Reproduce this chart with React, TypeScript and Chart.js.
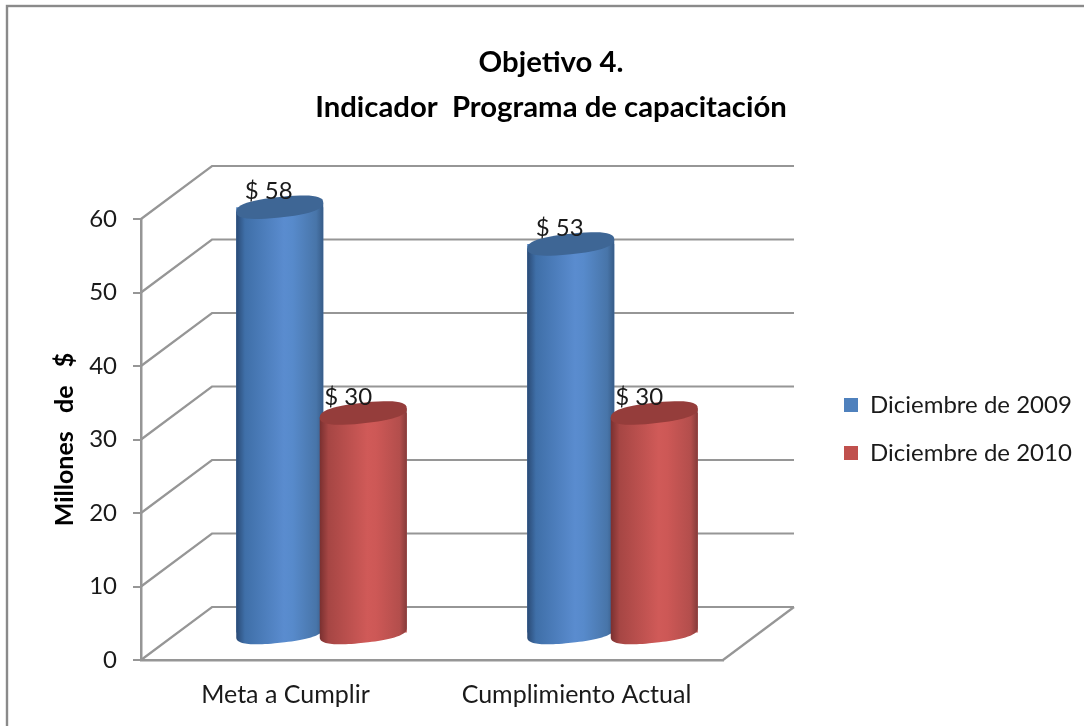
import React, { useEffect, useRef } from "react";
import { Chart, registerables } from "chart.js";

Chart.register(...registerables);

const categories = ["Meta a Cumplir", "Cumplimiento Actual"];
const seriesNames = ["Diciembre de 2009", "Diciembre de 2010"];
const values2009 = [58, 53];
const values2010 = [30, 30];
const titleLines = ["Objetivo 4.", "Indicador  Programa de capacitación"];
const axisTitle = "Millones   de   $";

const FONT = "Lato, Carlito, sans-serif";
const GREY = "#969696";
const DEPTH_X = 71;
const DEPTH_Y = -53;
const BAR_DX = 35;
const BAR_DY = -26.5;
const CAP_SLOPE = -0.105;
const RY = 10.3;
const CAP_POWER = 0.8;

const palettes = [
  { flat: "#4f81bd", cap: "#3e6695", stops: ["#2a4a75", "#3f6fa8", "#5a8ccf", "#578acb", "#4875a9", "#375c88"] },
  { flat: "#c0504d", cap: "#953d3b", stops: ["#7a3030", "#a64644", "#d05a58", "#cd5856", "#b34e4c", "#853b3a"] },
];
const labelShift = [-11, -15];

// Traces the rounded, slightly tilted rim of a cylinder between two angles.
function capPath(ctx: any, x: number, y: number, rx: number, from: number, to: number) {
  const steps = 48;
  for (let i = 0; i <= steps; i++) {
    const a = from + ((to - from) * i) / steps;
    const c = Math.cos(a);
    const s = Math.sin(a);
    const px = rx * Math.sign(c) * Math.pow(Math.abs(c), CAP_POWER);
    const py = RY * Math.sign(s) * Math.pow(Math.abs(s), CAP_POWER);
    ctx.lineTo(x + px, y + py + CAP_SLOPE * px);
  }
}

const scene = {
  id: "scene3d",
  beforeDraw(chart: any) {
    const { ctx, width, height } = chart;
    ctx.save();
    ctx.fillStyle = "#ffffff";
    ctx.fillRect(0, 0, width, height);
    ctx.strokeStyle = "#8a8a8a";
    ctx.lineWidth = 2.4;
    ctx.strokeRect(7, 6, width + 20, height + 20);
    ctx.restore();
  },
  afterLayout(chart: any) {
    const lg = chart.legend;
    const p = lg.options.labels.padding;
    lg.left = 844 - p;
    lg.right = chart.width;
    lg.top = 393 - p;
    lg.bottom = lg.top + lg.height;
    const t = chart.titleBlock;
    const shift = 551 - (t.left + t.right) / 2;
    t.left += shift;
    t.right += shift;
  },
  beforeDatasetsDraw(chart: any) {
    const { ctx, chartArea, scales } = chart;
    ctx.save();
    ctx.strokeStyle = GREY;
    ctx.lineWidth = 2.2;
    scales.y.ticks.forEach((tk: any) => {
      const y = scales.y.getPixelForValue(tk.value);
      ctx.beginPath();
      ctx.moveTo(chartArea.left, y);
      ctx.lineTo(chartArea.left + DEPTH_X, y + DEPTH_Y);
      ctx.lineTo(chartArea.right + DEPTH_X, y + DEPTH_Y);
      ctx.stroke();
    });
    ctx.beginPath();
    ctx.moveTo(chartArea.right, chartArea.bottom);
    ctx.lineTo(chartArea.right + DEPTH_X, chartArea.bottom + DEPTH_Y);
    ctx.stroke();
    ctx.restore();
    ctx.save();
    ctx.translate(BAR_DX, BAR_DY);
  },
  afterDatasetsDraw(chart: any) {
    const { ctx } = chart;
    ctx.restore();
    ctx.save();
    ctx.translate(BAR_DX, BAR_DY);
    chart.data.datasets.forEach((_: any, di: number) => {
      const pal = palettes[di];
      chart.getDatasetMeta(di).data.forEach((el: any) => {
        const { x, y, base, width } = el.getProps(["x", "y", "base", "width"], true);
        const rx = width / 2;
        const g = ctx.createLinearGradient(x - rx, 0, x + rx, 0);
        [0, 0.1, 0.55, 0.65, 0.92, 1].forEach((s, i) => g.addColorStop(s, pal.stops[i]));
        ctx.fillStyle = g;
        ctx.beginPath();
        ctx.moveTo(x - rx, y - CAP_SLOPE * rx);
        capPath(ctx, x, base, rx, Math.PI, 0);
        ctx.lineTo(x + rx, y + CAP_SLOPE * rx);
        ctx.closePath();
        ctx.fill();
        ctx.fillStyle = pal.cap;
        ctx.beginPath();
        capPath(ctx, x, y, rx, 0, Math.PI * 2);
        ctx.closePath();
        ctx.fill();
      });
    });
    ctx.restore();
    ctx.save();
    ctx.fillStyle = "#1a1a1a";
    ctx.font = `24px ${FONT}`;
    ctx.textAlign = "center";
    ctx.textBaseline = "middle";
    chart.data.datasets.forEach((ds: any, di: number) => {
      chart.getDatasetMeta(di).data.forEach((el: any, i: number) => {
        ctx.fillText(`$ ${ds.data[i]}`, el.x + BAR_DX + labelShift[di], el.y + BAR_DY - 16);
      });
    });
    ctx.restore();
  },
};

export default function App() {
  const ref = useRef<HTMLCanvasElement>(null);
  useEffect(() => {
    const chart = new Chart(ref.current as HTMLCanvasElement, {
      type: "bar",
      data: {
        labels: categories,
        datasets: [
          { label: seriesNames[0], data: values2009, backgroundColor: palettes[0].flat, clip: false } as any,
          { label: seriesNames[1], data: values2010, backgroundColor: palettes[1].flat, clip: false } as any,
        ],
      },
      options: {
        responsive: false,
        animation: false,
        layout: { padding: { left: 0, top: 0, right: 120, bottom: 0 } },
        datasets: { bar: { categoryPercentage: 0.574, barPercentage: 1.042 } },
        plugins: {
          tooltip: { enabled: false },
          title: {
            display: true,
            text: titleLines,
            color: "#000000",
            font: { family: FONT, size: 29.3, weight: "bold", lineHeight: 45 / 29.3 },
            padding: { top: 40, bottom: 89 },
          },
          legend: {
            position: "right",
            align: "start",
            labels: {
              boxWidth: 14,
              boxHeight: 14,
              padding: 24,
              color: "#1a1a1a",
              font: { family: FONT, size: 24 },
            },
          },
        },
        scales: {
          x: {
            grid: { display: false, drawTicks: false },
            border: { display: true, color: GREY, width: 2.5 },
            ticks: { padding: 20, labelOffset: -1, color: "#1a1a1a", font: { family: FONT, size: 25 }, maxRotation: 0 },
            afterFit: (s: any) => {
              s.height = 66;
            },
          },
          y: {
            min: 0,
            max: 60,
            ticks: { stepSize: 10, padding: 16, color: "#1a1a1a", font: { family: FONT, size: 24 } },
            grid: { drawOnChartArea: false, drawTicks: true, tickLength: 8, color: GREY, lineWidth: 2 },
            border: { display: true, color: GREY, width: 2.5 },
            title: {
              display: true,
              text: axisTitle,
              color: "#000000",
              font: { family: FONT, size: 25, weight: "bold" },
              padding: { top: 50, bottom: 0 },
            },
            afterFit: (s: any) => {
              s.width = 141;
            },
          },
        },
      },
      plugins: [scene],
    } as any);
    return () => chart.destroy();
  }, []);
  return (
    <canvas
      ref={ref}
      width={1084}
      height={726}
      style={{ position: "fixed", left: 0, top: 0, width: 1084, height: 726, display: "block", filter: "blur(0.4px)" }}
    />
  );
}
